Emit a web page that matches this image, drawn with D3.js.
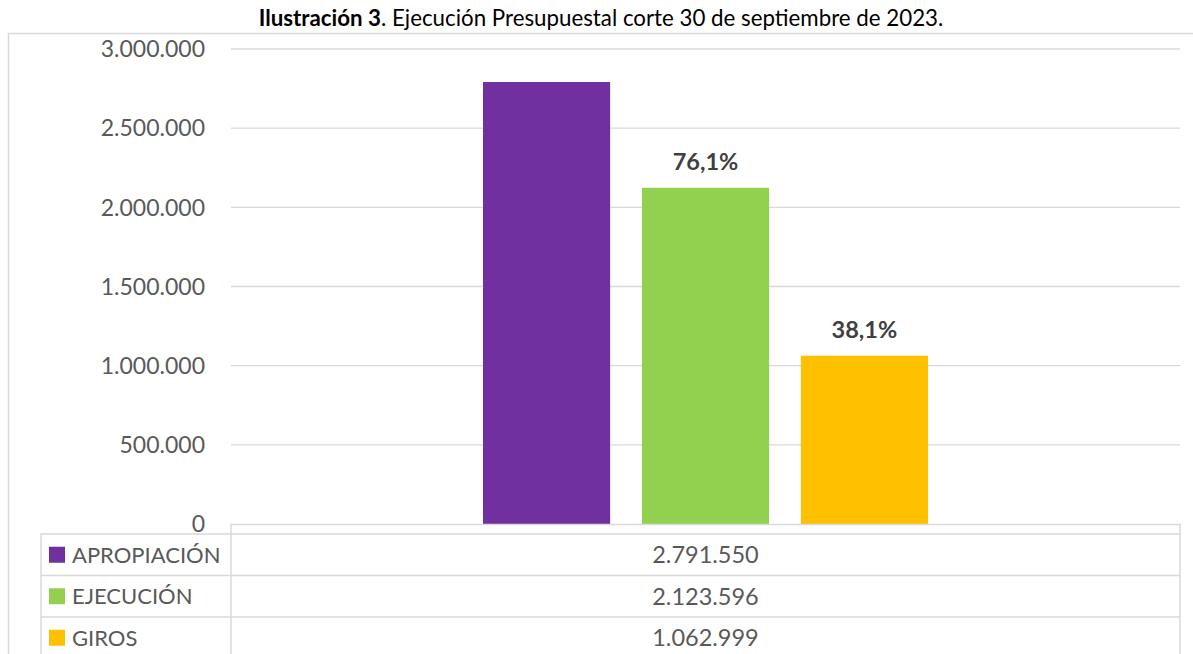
<!DOCTYPE html>
<html>
<head>
<meta charset="utf-8">
<script src="https://cdn.jsdelivr.net/npm/d3@7"></script>
<style>
  body { margin: 0; background: #fff; }
  svg text { font-family: Lato, "Open Sans", sans-serif; }
</style>
</head>
<body>
<div id="chart"></div>
<script>
// data
const categories = ['APROPIACIÓN', 'EJECUCIÓN', 'GIROS'];
const values = [2791550, 2123596, 1062999];
const colors = ['#7030a0', '#92d050', '#ffc000'];
const yTicks = [0, 500000, 1000000, 1500000, 2000000, 2500000, 3000000];

const width = 1193, height = 654;
const plotLeft = 231, plotRight = 1180, plotTop = 49, plotBottom = 524;
const fontSize = '23px';

const es = d3.formatLocale({decimal: ',', thousands: '.', grouping: [3], currency: ['$', '']});
const fmtNum = es.format(',d');
const fmtPct = es.format('.1%');

const svg = d3.select('#chart').append('svg')
  .attr('width', width)
  .attr('height', height);

// title
const title = svg.append('text')
  .attr('x', 601).attr('y', 26)
  .attr('text-anchor', 'middle')
  .style('font-size', '22.3px')
  .attr('fill', '#000');
title.append('tspan').attr('font-weight', 'bold').text('Ilustración 3');
title.append('tspan').text('. Ejecución Presupuestal corte 30 de septiembre de 2023.');

// chart frame (left + top only visible)
svg.append('path')
  .attr('d', 'M8.5,' + height + 'V33.5H' + width)
  .attr('fill', 'none').attr('stroke', '#d9d9d9').attr('stroke-width', 1.5);

let y = d3.scaleLinear().domain([0, 3000000]).range([plotBottom, plotTop]);

// grid
svg.append('g').selectAll('line')
  .data(yTicks.slice(1))
  .enter().append('line')
  .attr('x1', plotLeft).attr('x2', plotRight)
  .attr('y1', d => y(d)).attr('y2', d => y(d))
  .attr('stroke', '#d9d9d9').attr('stroke-width', 1.3);

// y axis labels
svg.append('g').selectAll('text')
  .data(yTicks)
  .enter().append('text')
  .attr('x', 205)
  .attr('y', d => y(d))
  .attr('dy', '0.36em')
  .attr('text-anchor', 'end')
  .style('font-size', fontSize)
  .attr('fill', '#595959')
  .text(d => fmtNum(d));

// one category group, bars side by side
let x0 = d3.scaleBand().domain(['g']).range([plotLeft, plotRight]);
let x1 = d3.scaleBand().domain(categories)
  .range([x0('g') + 252, x0('g') + x0.bandwidth() - 252])
  .paddingInner(0.2);

svg.append('g').selectAll('rect')
  .data(values)
  .enter().append('rect')
  .attr('x', (d, i) => x1(categories[i]))
  .attr('y', d => y(d))
  .attr('width', x1.bandwidth())
  .attr('height', d => y(0) - y(d))
  .attr('fill', (d, i) => colors[i]);

// percentage labels over execution bars
svg.append('g').selectAll('text')
  .data(values.slice(1))
  .enter().append('text')
  .attr('x', (d, i) => x1(categories[i + 1]) + x1.bandwidth() / 2)
  .attr('y', d => y(d) - 18)
  .attr('text-anchor', 'middle')
  .style('font-size', '23.5px')
  .attr('font-weight', 'bold')
  .attr('fill', '#404040')
  .text(d => fmtPct(d / values[0]));

// data table
const tableTop = 534, rowH = 41.5, tableLeft = 41;
const grid = svg.append('g').attr('stroke', '#d9d9d9').attr('stroke-width', 1.5).attr('fill', 'none');
grid.append('path').attr('d', 'M' + plotLeft + ',' + height + 'V' + (plotBottom + 0.5) + 'H' + plotRight + 'V' + height);
grid.append('path').attr('d', 'M' + tableLeft + ',' + height + 'V' + tableTop + 'H' + plotRight);
grid.selectAll('line.row')
  .data(categories)
  .enter().append('line')
  .attr('x1', tableLeft).attr('x2', plotRight)
  .attr('y1', (d, i) => tableTop + rowH * (i + 1))
  .attr('y2', (d, i) => tableTop + rowH * (i + 1));

let rows = svg.append('g').selectAll('g')
  .data(categories)
  .enter().append('g')
  .attr('transform', (d, i) => 'translate(0,' + (tableTop + rowH * i + rowH / 2) + ')');

rows.append('rect')
  .attr('x', 49).attr('y', -8)
  .attr('width', 16).attr('height', 16)
  .attr('fill', (d, i) => colors[i]);

rows.append('text')
  .attr('x', 72).attr('dy', '0.36em')
  .style('font-size', '22px')
  .attr('fill', '#595959')
  .text(d => d);

rows.append('text')
  .attr('x', (plotLeft + plotRight) / 2)
  .attr('dy', '0.36em')
  .attr('text-anchor', 'middle')
  .style('font-size', '23.5px')
  .attr('fill', '#595959')
  .text((d, i) => fmtNum(values[i]));
</script>
</body>
</html>
